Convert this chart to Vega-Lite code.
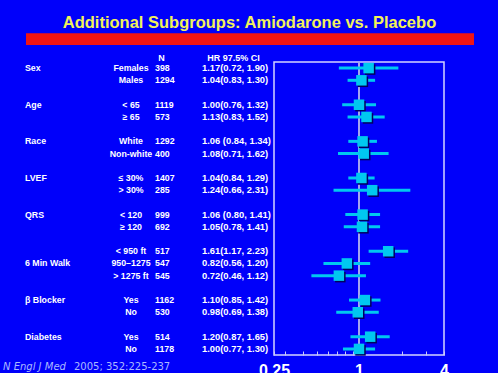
{
  "$schema": "https://vega.github.io/schema/vega-lite/v6.json",
  "width": 170,
  "height": 293,
  "autosize": {"type": "none"},
  "padding": {"left": 274, "top": 62, "right": 54, "bottom": 18},
  "background": "#0000fa",
  "config": {
    "view": {"stroke": "#d4d4ff", "strokeWidth": 1.5},
    "text": {"font": "Liberation Sans", "fontWeight": "bold", "color": "white", "baseline": "middle"}
  },
  "title": {
    "text": "Additional Subgroups: Amiodarone vs. Placebo",
    "color": "#f2f25a",
    "font": "Liberation Sans",
    "fontSize": 16.5,
    "fontWeight": "bold",
    "anchor": "middle",
    "frame": "group",
    "dx": -109.5,
    "offset": -11.5,
    "baseline": "alphabetic"
  },
  "datasets": {
    "rows": [
      {"row": "Sex|Females", "sub": "Females", "n": 398, "hr": 1.17, "lo": 0.72, "hi": 1.90, "ci": "1.17(0.72, 1.90)"},
      {"row": "Sex|Males", "sub": "Males", "n": 1294, "hr": 1.04, "lo": 0.83, "hi": 1.30, "ci": "1.04(0.83, 1.30)"},
      {"row": "Age|< 65", "sub": "< 65", "n": 1119, "hr": 1.00, "lo": 0.76, "hi": 1.32, "ci": "1.00(0.76, 1.32)"},
      {"row": "Age|≥ 65", "sub": "≥ 65", "n": 573, "hr": 1.13, "lo": 0.83, "hi": 1.52, "ci": "1.13(0.83, 1.52)"},
      {"row": "Race|White", "sub": "White", "n": 1292, "hr": 1.06, "lo": 0.84, "hi": 1.34, "ci": "1.06 (0.84, 1.34)"},
      {"row": "Race|Non-white", "sub": "Non-white", "n": 400, "hr": 1.08, "lo": 0.71, "hi": 1.62, "ci": "1.08(0.71, 1.62)"},
      {"row": "LVEF|≤ 30%", "sub": "≤ 30%", "n": 1407, "hr": 1.04, "lo": 0.84, "hi": 1.29, "ci": "1.04(0.84, 1.29)"},
      {"row": "LVEF|> 30%", "sub": "> 30%", "n": 285, "hr": 1.24, "lo": 0.66, "hi": 2.31, "ci": "1.24(0.66, 2.31)"},
      {"row": "QRS|< 120", "sub": "< 120", "n": 999, "hr": 1.06, "lo": 0.80, "hi": 1.41, "ci": "1.06 (0.80, 1.41)"},
      {"row": "QRS|≥ 120", "sub": "≥ 120", "n": 692, "hr": 1.05, "lo": 0.78, "hi": 1.41, "ci": "1.05(0.78, 1.41)"},
      {"row": "Walk|< 950 ft", "sub": "< 950 ft", "n": 517, "hr": 1.61, "lo": 1.17, "hi": 2.23, "ci": "1.61(1.17, 2.23)"},
      {"row": "Walk|950–1275", "sub": "950–1275", "n": 547, "hr": 0.82, "lo": 0.56, "hi": 1.20, "ci": "0.82(0.56, 1.20)"},
      {"row": "Walk|> 1275 ft", "sub": "> 1275 ft", "n": 545, "hr": 0.72, "lo": 0.46, "hi": 1.12, "ci": "0.72(0.46, 1.12)"},
      {"row": "Beta|Yes", "sub": "Yes", "n": 1162, "hr": 1.10, "lo": 0.85, "hi": 1.42, "ci": "1.10(0.85, 1.42)"},
      {"row": "Beta|No", "sub": "No", "n": 530, "hr": 0.98, "lo": 0.69, "hi": 1.38, "ci": "0.98(0.69, 1.38)"},
      {"row": "Diab|Yes", "sub": "Yes", "n": 514, "hr": 1.20, "lo": 0.87, "hi": 1.65, "ci": "1.20(0.87, 1.65)"},
      {"row": "Diab|No", "sub": "No", "n": 1178, "hr": 1.00, "lo": 0.77, "hi": 1.30, "ci": "1.00(0.77, 1.30)"}
    ],
    "groups": [
      {"group": "Sex", "row": "Sex|Females"},
      {"group": "Age", "row": "Age|< 65"},
      {"group": "Race", "row": "Race|White"},
      {"group": "LVEF", "row": "LVEF|≤ 30%"},
      {"group": "QRS", "row": "QRS|< 120"},
      {"group": "6 Min Walk", "row": "Walk|950–1275"},
      {"group": "β Blocker", "row": "Beta|Yes"},
      {"group": "Diabetes", "row": "Diab|Yes"}
    ]
  },
  "layer": [
    {
      "data": {"values": [{}]},
      "mark": {"type": "rect", "color": "#f01414"},
      "encoding": {
        "x": {"value": -248}, "x2": {"value": 200},
        "y": {"value": -28.7}, "y2": {"value": -17}
      }
    },
    {
      "data": {"values": [{"ref": 1}]},
      "mark": {"type": "rule", "color": "#a4a4f0", "strokeWidth": 2},
      "encoding": {
        "x": {"field": "ref", "type": "quantitative", "scale": {"type": "log", "domain": [0.25, 4], "nice": false},
          "axis": {
            "orient": "bottom",
            "values": [0.25, 0.3, 0.4, 0.5, 0.6, 0.7, 0.8, 0.9, 1, 2, 3, 4],
            "labelExpr": "datum.value == 0.25 ? '0.25' : datum.value == 1 ? '1' : datum.value == 4 ? '4' : ''",
            "domain": false, "grid": false,
            "tickColor": "#c8c8f8", "tickSize": -4, "tickWidth": 1,
            "labelColor": "white", "labelFont": "Liberation Sans", "labelFontSize": 16, "labelFontWeight": "bold",
            "labelPadding": 11, "labelFlush": false, "labelOverlap": false, "labelBound": false,
            "title": null
          }
        }
      }
    },
    {
      "data": {"name": "rows"},
      "mark": {"type": "rule", "color": "#00c8f0", "strokeWidth": 3},
      "encoding": {
        "x": {"field": "lo", "type": "quantitative", "scale": {"type": "log", "domain": [0.25, 4], "nice": false}},
        "x2": {"field": "hi"},
        "y": {"field": "row", "type": "nominal", "axis": null, "scale": {"type": "point", "padding": 0.5, "domain": ["Sex|Females","Sex|Males","gap1","Age|< 65","Age|≥ 65","gap2","Race|White","Race|Non-white","gap3","LVEF|≤ 30%","LVEF|> 30%","gap4","QRS|< 120","QRS|≥ 120","gap5","Walk|< 950 ft","Walk|950–1275","Walk|> 1275 ft","gap6","Beta|Yes","Beta|No","gap7","Diab|Yes","Diab|No"]}}
      }
    },
    {
      "data": {"name": "rows"},
      "mark": {"type": "square", "filled": true, "color": "#000060", "opacity": 1, "size": 110},
      "encoding": {
        "x": {"field": "hr", "type": "quantitative", "scale": {"type": "log", "domain": [0.25, 4], "nice": false}},
        "xOffset": {"value": 1.5},
        "yOffset": {"value": 1.5},
        "y": {"field": "row", "type": "nominal", "axis": null, "scale": {"type": "point", "padding": 0.5, "domain": ["Sex|Females","Sex|Males","gap1","Age|< 65","Age|≥ 65","gap2","Race|White","Race|Non-white","gap3","LVEF|≤ 30%","LVEF|> 30%","gap4","QRS|< 120","QRS|≥ 120","gap5","Walk|< 950 ft","Walk|950–1275","Walk|> 1275 ft","gap6","Beta|Yes","Beta|No","gap7","Diab|Yes","Diab|No"]}}
      }
    },
    {
      "data": {"name": "rows"},
      "mark": {"type": "square", "filled": true, "color": "#00c8f0", "opacity": 1, "size": 110},
      "encoding": {
        "x": {"field": "hr", "type": "quantitative", "scale": {"type": "log", "domain": [0.25, 4], "nice": false}},
        "y": {"field": "row", "type": "nominal", "axis": null, "scale": {"type": "point", "padding": 0.5, "domain": ["Sex|Females","Sex|Males","gap1","Age|< 65","Age|≥ 65","gap2","Race|White","Race|Non-white","gap3","LVEF|≤ 30%","LVEF|> 30%","gap4","QRS|< 120","QRS|≥ 120","gap5","Walk|< 950 ft","Walk|950–1275","Walk|> 1275 ft","gap6","Beta|Yes","Beta|No","gap7","Diab|Yes","Diab|No"]}}
      }
    },
    {
      "data": {"name": "groups"},
      "mark": {"type": "text", "align": "left", "fontSize": 8.8},
      "encoding": {
        "x": {"value": -249},
        "y": {"field": "row", "type": "nominal", "axis": null, "scale": {"type": "point", "padding": 0.5, "domain": ["Sex|Females","Sex|Males","gap1","Age|< 65","Age|≥ 65","gap2","Race|White","Race|Non-white","gap3","LVEF|≤ 30%","LVEF|> 30%","gap4","QRS|< 120","QRS|≥ 120","gap5","Walk|< 950 ft","Walk|950–1275","Walk|> 1275 ft","gap6","Beta|Yes","Beta|No","gap7","Diab|Yes","Diab|No"]}},
        "text": {"field": "group"}
      }
    },
    {
      "data": {"name": "rows"},
      "mark": {"type": "text", "align": "center", "fontSize": 8.8},
      "encoding": {
        "x": {"value": -143},
        "y": {"field": "row", "type": "nominal", "axis": null, "scale": {"type": "point", "padding": 0.5, "domain": ["Sex|Females","Sex|Males","gap1","Age|< 65","Age|≥ 65","gap2","Race|White","Race|Non-white","gap3","LVEF|≤ 30%","LVEF|> 30%","gap4","QRS|< 120","QRS|≥ 120","gap5","Walk|< 950 ft","Walk|950–1275","Walk|> 1275 ft","gap6","Beta|Yes","Beta|No","gap7","Diab|Yes","Diab|No"]}},
        "text": {"field": "sub"}
      }
    },
    {
      "data": {"name": "rows"},
      "mark": {"type": "text", "align": "left", "fontSize": 8.8},
      "encoding": {
        "x": {"value": -119},
        "y": {"field": "row", "type": "nominal", "axis": null, "scale": {"type": "point", "padding": 0.5, "domain": ["Sex|Females","Sex|Males","gap1","Age|< 65","Age|≥ 65","gap2","Race|White","Race|Non-white","gap3","LVEF|≤ 30%","LVEF|> 30%","gap4","QRS|< 120","QRS|≥ 120","gap5","Walk|< 950 ft","Walk|950–1275","Walk|> 1275 ft","gap6","Beta|Yes","Beta|No","gap7","Diab|Yes","Diab|No"]}},
        "text": {"field": "n", "type": "nominal"}
      }
    },
    {
      "data": {"name": "rows"},
      "mark": {"type": "text", "align": "left", "fontSize": 9.4},
      "encoding": {
        "x": {"value": -72},
        "y": {"field": "row", "type": "nominal", "axis": null, "scale": {"type": "point", "padding": 0.5, "domain": ["Sex|Females","Sex|Males","gap1","Age|< 65","Age|≥ 65","gap2","Race|White","Race|Non-white","gap3","LVEF|≤ 30%","LVEF|> 30%","gap4","QRS|< 120","QRS|≥ 120","gap5","Walk|< 950 ft","Walk|950–1275","Walk|> 1275 ft","gap6","Beta|Yes","Beta|No","gap7","Diab|Yes","Diab|No"]}},
        "text": {"field": "ci"}
      }
    },
    {
      "data": {"values": [{"h": "N"}]},
      "mark": {"type": "text", "align": "center", "fontSize": 9},
      "encoding": {"x": {"value": -112.5}, "y": {"value": -4}, "text": {"field": "h"}}
    },
    {
      "data": {"values": [{"h": "HR 97.5% CI"}]},
      "mark": {"type": "text", "align": "center", "fontSize": 9},
      "encoding": {"x": {"value": -40.5}, "y": {"value": -4}, "text": {"field": "h"}}
    },
    {
      "data": {"values": [{"f": "N Engl J Med"}]},
      "mark": {"type": "text", "align": "left", "font": "DejaVu Sans", "fontWeight": "normal", "fontStyle": "italic", "fontSize": 10, "color": "#aab8ff"},
      "encoding": {"x": {"value": -271}, "y": {"value": 305}, "text": {"field": "f"}}
    },
    {
      "data": {"values": [{"f": "2005; 352:225-237"}]},
      "mark": {"type": "text", "align": "left", "font": "DejaVu Sans", "fontWeight": "normal", "fontSize": 10, "color": "#aab8ff"},
      "encoding": {"x": {"value": -200}, "y": {"value": 305}, "text": {"field": "f"}}
    }
  ]
}
